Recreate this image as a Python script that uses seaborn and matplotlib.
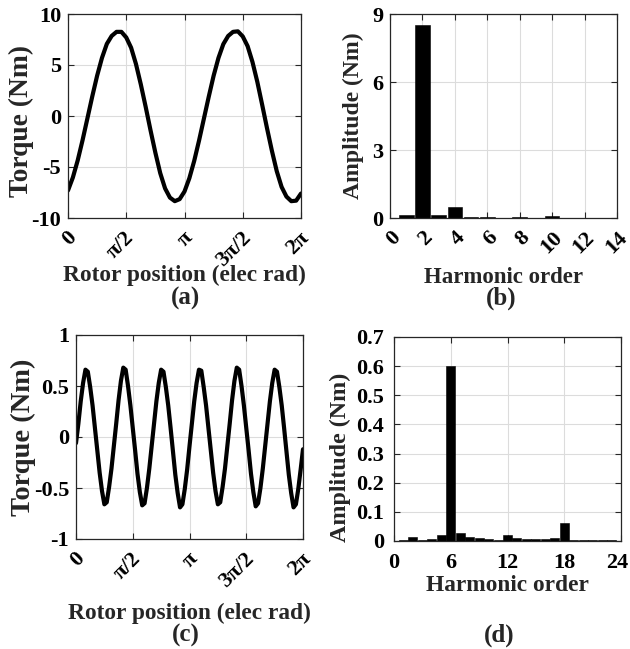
import numpy as np
import pandas as pd
import matplotlib
matplotlib.use("Agg")
import matplotlib.pyplot as plt
from matplotlib.transforms import ScaledTranslation
import seaborn as sns

# ---------------- data ----------------
# (a) torque vs rotor position, sampled every pi/24
rotor_pos_a = np.arange(49) * np.pi / 24
torque_a = [-7.30, -6.03, -4.35, -2.37, -0.23, 1.92, 3.95, 5.70, 7.07, 7.85,
            8.25, 8.25, 7.70, 6.70, 5.10, 3.10, 0.90, -1.40, -3.60, -5.60,
            -7.10, -8.00, -8.35, -8.15, -7.40, -6.10, -4.40, -2.40, -0.25, 1.90,
            3.95, 5.70, 7.05, 7.85, 8.25, 8.30, 7.80, 6.85, 5.30, 3.35,
            1.10, -1.20, -3.40, -5.40, -6.95, -7.90, -8.35, -8.30, -7.60]

# (b) harmonic spectrum of (a)
orders_b = [1, 2, 3, 4, 5, 6, 7, 8, 9, 10, 11, 12, 13]
amps_b = [0.15, 8.50, 0.12, 0.50, 0.03, 0.06, 0.02, 0.05, 0.02, 0.07, 0.02, 0.02, 0.02]

# (c) torque ripple vs rotor position, sampled every pi/48
rotor_pos_c = np.arange(97) * np.pi / 48
torque_c = [-0.06, 0.13, 0.35, 0.53, 0.66, 0.64, 0.49, 0.31, 0.09, -0.13, -0.35, -0.53, -0.66, -0.64, -0.49, -0.31,
            -0.09, 0.13, 0.36, 0.55, 0.68, 0.66, 0.50, 0.31, 0.09, -0.13, -0.36, -0.54, -0.67, -0.65, -0.50, -0.31,
            -0.09, 0.13, 0.35, 0.53, 0.66, 0.64, 0.49, 0.31, 0.09, -0.14, -0.37, -0.55, -0.69, -0.66, -0.51, -0.32,
            -0.09, 0.13, 0.35, 0.53, 0.66, 0.65, 0.49, 0.31, 0.09, -0.13, -0.35, -0.53, -0.66, -0.64, -0.49, -0.31,
            -0.09, 0.13, 0.36, 0.55, 0.68, 0.66, 0.50, 0.31, 0.09, -0.13, -0.36, -0.54, -0.68, -0.65, -0.50, -0.31,
            -0.09, 0.13, 0.35, 0.53, 0.66, 0.64, 0.49, 0.31, 0.09, -0.14, -0.37, -0.55, -0.69, -0.66, -0.51, -0.32,
            -0.12]

# (d) harmonic spectrum of (c)
orders_d = list(range(1, 24))
amps_d = [0.003, 0.015, 0.004, 0.007, 0.020, 0.600, 0.029, 0.014, 0.009, 0.006, 0.005, 0.022,
          0.009, 0.006, 0.006, 0.007, 0.009, 0.063, 0.004, 0.002, 0.002, 0.002, 0.002]

pi_ticks = [0, np.pi / 2, np.pi, 3 * np.pi / 2, 2 * np.pi]
pi_labels = ["0", "π/2", "π", "3π/2", "2π"]

# ---------------- style ----------------
sns.set_theme(style="ticks")
plt.rcParams.update({
    "font.family": ["Liberation Serif", "DejaVu Serif"],
    "font.weight": "bold",
    "axes.labelweight": "bold",
    "axes.unicode_minus": False,
    "axes.edgecolor": "#262626",
    "axes.linewidth": 0.9,
    "figure.facecolor": "white",
    "axes.facecolor": "white",
})

W, H = 630, 649
fig = plt.figure(figsize=(W / 100, H / 100), dpi=100)


def add_ax(left, top, right, bottom):
    return fig.add_axes([left / W, 1 - bottom / H, (right - left) / W, (bottom - top) / H])


axA = add_ax(68, 14, 301, 218)
axB = add_ax(390, 14, 617, 218)
axC = add_ax(76, 335, 303, 539)
axD = add_ax(394, 337, 621, 541)

TICK_FS = 16


def common(ax):
    ax.grid(True, color="#dcdcdc", linewidth=0.8)
    ax.set_axisbelow(True)
    ax.tick_params(direction="in", length=4, width=0.8, top=True, right=True,
                   color="#262626", labelcolor="black", labelsize=TICK_FS)
    ax.tick_params(axis="y", pad=5)
    for s in ax.spines.values():
        s.set_visible(True)


def shift(lab, dx):
    lab.set_transform(lab.get_transform() + ScaledTranslation(dx / 100, 0, fig.dpi_scale_trans))


def rot_ticks(ax, dx=5):
    ax.tick_params(axis="x", pad=12)
    for lab in ax.get_xticklabels():
        lab.set_rotation(45)
        lab.set_ha("right")
        lab.set_va("center")
        lab.set_rotation_mode("anchor")
        shift(lab, dx)


def labels(ax, xl, yl, xfs, yfs, xy, yx, yy=0.5):
    ax.set_xlabel(xl, fontsize=xfs, fontweight="bold", va="center", ha="center")
    ax.set_ylabel(yl, fontsize=yfs, fontweight="bold", va="center", ha="center")
    ax.xaxis.set_label_coords(0.5, xy)
    ax.yaxis.set_label_coords(yx, yy)


BAR_KW = dict(native_scale=True, color="black", errorbar=None, saturation=1,
              edgecolor="black", linewidth=0.4)

# (a)
sns.lineplot(x=rotor_pos_a, y=torque_a, ax=axA, color="black", linewidth=3)
axA.set_xlim(0, 2 * np.pi)
axA.set_ylim(-10, 10)
axA.set_xticks(pi_ticks, pi_labels)
axA.set_yticks([-10, -5, 0, 5, 10])
common(axA)
rot_ticks(axA)
labels(axA, "Rotor position (elec rad)", "Torque (Nm)", 16.8, 19.8, -0.279, -0.202, 0.475)

# (b)
sns.barplot(x=orders_b, y=amps_b, ax=axB, width=0.9, **BAR_KW)
axB.set_xlim(0, 14)
axB.set_ylim(0, 9)
axB.set_xticks(range(0, 15, 2), [str(v) for v in range(0, 15, 2)])
axB.set_yticks([0, 3, 6, 9])
common(axB)
rot_ticks(axB, dx=7)
labels(axB, "Harmonic order", "Amplitude (Nm)", 16.5, 17, -0.294, -0.163)

# (c)
sns.lineplot(x=rotor_pos_c, y=torque_c, ax=axC, color="black", linewidth=3)
axC.set_xlim(0, 2 * np.pi)
axC.set_ylim(-1, 1)
axC.set_xticks(pi_ticks, pi_labels)
axC.set_yticks([-1, -0.5, 0, 0.5, 1], ["-1", "-0.5", "0", "0.5", "1"])
common(axC)
rot_ticks(axC)
labels(axC, "Rotor position (elec rad)", "Torque (Nm)", 16.8, 20.5, -0.363, -0.233)

# (d)
sns.barplot(x=orders_d, y=amps_d, ax=axD, width=0.95, **BAR_KW)
axD.set_xlim(0, 24)
axD.set_ylim(0, 0.7)
axD.set_xticks([0, 6, 12, 18, 24], ["0", "6", "12", "18", "24"])
axD.set_yticks(np.arange(0, 0.71, 0.1), ["0", "0.1", "0.2", "0.3", "0.4", "0.5", "0.6", "0.7"])
common(axD)
axD.tick_params(axis="x", pad=9)
axD.tick_params(axis="y", pad=7)
shift(axD.get_xticklabels()[-1], -4)
labels(axD, "Harmonic order", "Amplitude (Nm)", 16.8, 17.3, -0.22, -0.238, 0.41)

# panel captions
for txt, x, y in [("(a)", 185, 298), ("(b)", 501, 298), ("(c)", 186, 635), ("(d)", 499, 635)]:
    fig.text(x / W, 1 - y / H, txt, ha="center", va="center", fontsize=18, fontweight="bold")

fig.savefig("out.png", dpi=100, facecolor="white")
